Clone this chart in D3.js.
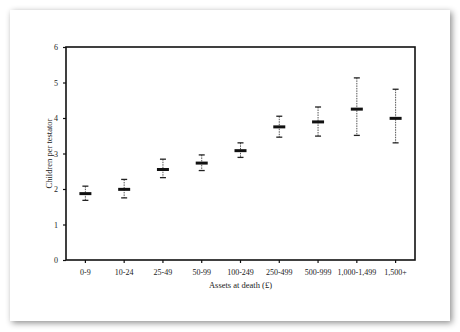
<!DOCTYPE html>
<html>
<head>
<meta charset="utf-8">
<script src="https://cdn.jsdelivr.net/npm/d3@7"></script>
<style>
  body { margin: 0; background: #fff; }
  svg { display: block; }
  text { font-family: "Liberation Serif", "DejaVu Serif", serif; fill: #222; }
</style>
</head>
<body>
<svg id="chart" width="460" height="332"></svg>
<script>
const categories = ['0-9', '10-24', '25-49', '50-99', '100-249', '250-499', '500-999', '1,000-1,499', '1,500+'];
const means = [1.87, 1.99, 2.55, 2.73, 3.08, 3.75, 3.89, 4.25, 3.99];
const upper = [2.08, 2.27, 2.84, 2.96, 3.30, 4.05, 4.31, 5.13, 4.81];
const lower = [1.68, 1.75, 2.32, 2.52, 2.89, 3.46, 3.49, 3.51, 3.30];
const yTicks = [0, 1, 2, 3, 4, 5, 6];

const svg = d3.select('#chart');

// card with shadow
const defs = svg.append('defs');
const f = defs.append('filter').attr('id', 'shadow')
  .attr('x', '-10%').attr('y', '-10%').attr('width', '120%').attr('height', '120%');
f.append('feDropShadow').attr('dx', 2).attr('dy', 2)
  .attr('stdDeviation', 3).attr('flood-color', '#000').attr('flood-opacity', 0.45);

svg.append('rect')
  .attr('x', 10).attr('y', 10).attr('width', 440).attr('height', 311)
  .attr('fill', '#fff').attr('filter', 'url(#shadow)');

const margin = { top: 47, left: 66, right: 45, bottom: 72 };
const width = 460, height = 332;
const innerW = width - margin.left - margin.right;
const innerH = height - margin.top - margin.bottom;

const x = d3.scaleBand().domain(categories).range([0, innerW]);
const y = d3.scaleLinear().domain([0, 6]).range([innerH, 0]);

const g = svg.append('g').attr('transform', `translate(${margin.left},${margin.top})`);

const xAxis = g.append('g').attr('transform', `translate(0,${innerH})`)
  .call(d3.axisBottom(x).tickSize(3).tickSizeOuter(0).tickPadding(6));
const yAxis = g.append('g')
  .call(d3.axisLeft(y).tickValues(yTicks).tickFormat(d3.format('d'))
    .tickSize(3).tickSizeOuter(0).tickPadding(5));

[xAxis, yAxis].forEach(a => {
  a.select('.domain').remove();
  a.selectAll('line').attr('stroke', '#111').attr('stroke-width', 1.2);
  a.selectAll('text').style('font-family', '"Liberation Serif", serif')
    .style('font-size', '8px').attr('fill', '#222');
});

// frame
g.append('rect')
  .attr('x', 0).attr('y', 0).attr('width', innerW).attr('height', innerH)
  .attr('fill', 'none').attr('stroke', '#111').attr('stroke-width', 1.6);

const data = categories.map((c, i) => ({ c, m: means[i], hi: upper[i], lo: lower[i] }));
const cx = d => x(d.c) + x.bandwidth() / 2;

const pts = g.append('g').selectAll('g').data(data).join('g');

pts.append('line')
  .attr('x1', cx).attr('x2', cx)
  .attr('y1', d => y(d.hi)).attr('y2', d => y(d.lo))
  .attr('stroke', '#555').attr('stroke-width', 1)
  .attr('stroke-dasharray', '1.5,1');

['hi', 'lo'].forEach(k => {
  pts.append('line')
    .attr('x1', d => cx(d) - 3).attr('x2', d => cx(d) + 3)
    .attr('y1', d => y(d[k])).attr('y2', d => y(d[k]))
    .attr('stroke', '#222').attr('stroke-width', 1.3);
});

pts.append('line')
  .attr('x1', d => cx(d) - 6).attr('x2', d => cx(d) + 6)
  .attr('y1', d => y(d.m)).attr('y2', d => y(d.m))
  .attr('stroke', '#111').attr('stroke-width', 3);

g.append('text')
  .attr('x', innerW / 2).attr('y', innerH + 28)
  .attr('text-anchor', 'middle').style('font-size', '8.5px')
  .text('Assets at death (£)');

g.append('text')
  .attr('transform', 'rotate(-90)')
  .attr('x', -innerH / 2).attr('y', -14)
  .attr('text-anchor', 'middle').style('font-size', '8.5px')
  .text('Children per testator');
</script>
</body>
</html>
